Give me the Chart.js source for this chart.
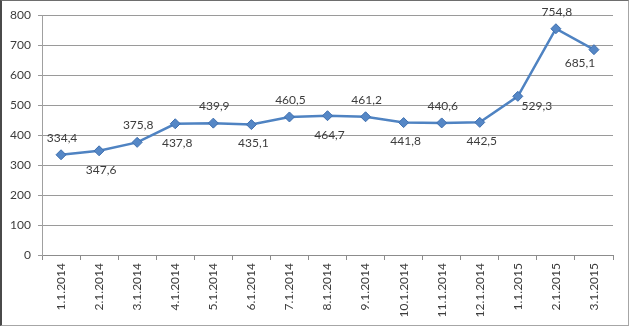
<!DOCTYPE html>
<html>
<head>
<meta charset="utf-8">
<script src="https://cdn.jsdelivr.net/npm/chart.js@4"></script>
<style>
  html, body { margin: 0; padding: 0; background: #fff; }
  #rahmen {
    width: 626px; height: 324px;
    border-left: 2px solid #4a4a4a;
    border-top: 1px solid #6e6e6e;
    border-right: 1px solid #a6a6a6;
    border-bottom: 1px solid #a6a6a6;
  }
  canvas { display: block; }
</style>
</head>
<body>
<div id="rahmen"><canvas id="chart" width="626" height="324"></canvas></div>
<script>
// Monate
const monate = ['1.1.2014', '2.1.2014', '3.1.2014', '4.1.2014', '5.1.2014', '6.1.2014', '7.1.2014',
  '8.1.2014', '9.1.2014', '10.1.2014', '11.1.2014', '12.1.2014', '1.1.2015', '2.1.2015', '3.1.2015'];

// Werte je Monat
const werte = [334.4, 347.6, 375.8, 437.8, 439.9, 435.1, 460.5, 464.7, 461.2, 441.8, 440.6, 442.5, 529.3, 754.8, 685.1];

// Y-Achse
const yMin = 0;
const yMax = 800;
const ySchritt = 100;

// wo das Wertelabel neben dem Punkt steht
const labelLage = ['oben', 'unten', 'oben', 'unten', 'oben', 'unten', 'oben', 'unten',
  'oben', 'unten', 'oben', 'unten', 'rechts', 'oben', 'links'];

const schrift = 'Lato, "Open Sans", sans-serif';
const textFarbe = '#3c3c3c';

const lageVersatz = {
  oben: [1, -17],
  unten: [2, 19],
  rechts: [19, 10],
  links: [-14, 13]
};

// Werte mit Komma als Dezimaltrenner an die Punkte schreiben
const wertLabels = {
  id: 'wertLabels',
  afterDatasetsDraw(chart) {
    const ctx = chart.ctx;
    const meta = chart.getDatasetMeta(0);
    ctx.save();
    ctx.font = '12px ' + schrift;
    ctx.fillStyle = textFarbe;
    ctx.textAlign = 'center';
    ctx.textBaseline = 'middle';
    meta.data.forEach((punkt, i) => {
      const [dx, dy] = lageVersatz[labelLage[i]];
      const text = werte[i].toFixed(1).replace('.', ',');
      ctx.fillText(text, punkt.x + dx, punkt.y + dy);
    });
    ctx.restore();
  }
};

const ctx = document.getElementById('chart').getContext('2d');
new Chart(ctx, {
  type: 'line',
  data: {
    labels: monate,
    datasets: [{
      data: werte,
      borderColor: '#4f83c2',
      borderWidth: 2.5,
      tension: 0,
      pointStyle: 'rectRot',
      pointRadius: 5,
      pointBackgroundColor: '#5587c6',
      pointBorderColor: '#3d6eae',
      pointBorderWidth: 1
    }]
  },
  options: {
    responsive: false,
    animation: false,
    layout: { padding: { left: 0, top: 14, right: 15, bottom: 0 } },
    plugins: {
      legend: { display: false },
      tooltip: { enabled: false }
    },
    scales: {
      x: {
        offset: true,
        grid: {
          offset: true,
          drawOnChartArea: false,
          drawTicks: true,
          tickLength: 5,
          color: '#8c8c8c'
        },
        border: { display: true, color: '#8c8c8c' },
        ticks: {
          autoSkip: false,
          minRotation: 90,
          maxRotation: 90,
          padding: 3,
          color: textFarbe,
          font: { family: schrift, size: 12 }
        },
        afterFit(scale) { scale.height = 70; }
      },
      y: {
        min: yMin,
        max: yMax,
        ticks: {
          stepSize: ySchritt,
          padding: 7,
          color: textFarbe,
          font: { family: schrift, size: 12 }
        },
        grid: {
          color: '#9a9a9a',
          tickLength: 4
        },
        border: { display: true, color: '#a0a0a0' },
        afterFit(scale) { scale.width = 40; }
      }
    }
  },
  plugins: [wertLabels]
});
</script>
</body>
</html>
